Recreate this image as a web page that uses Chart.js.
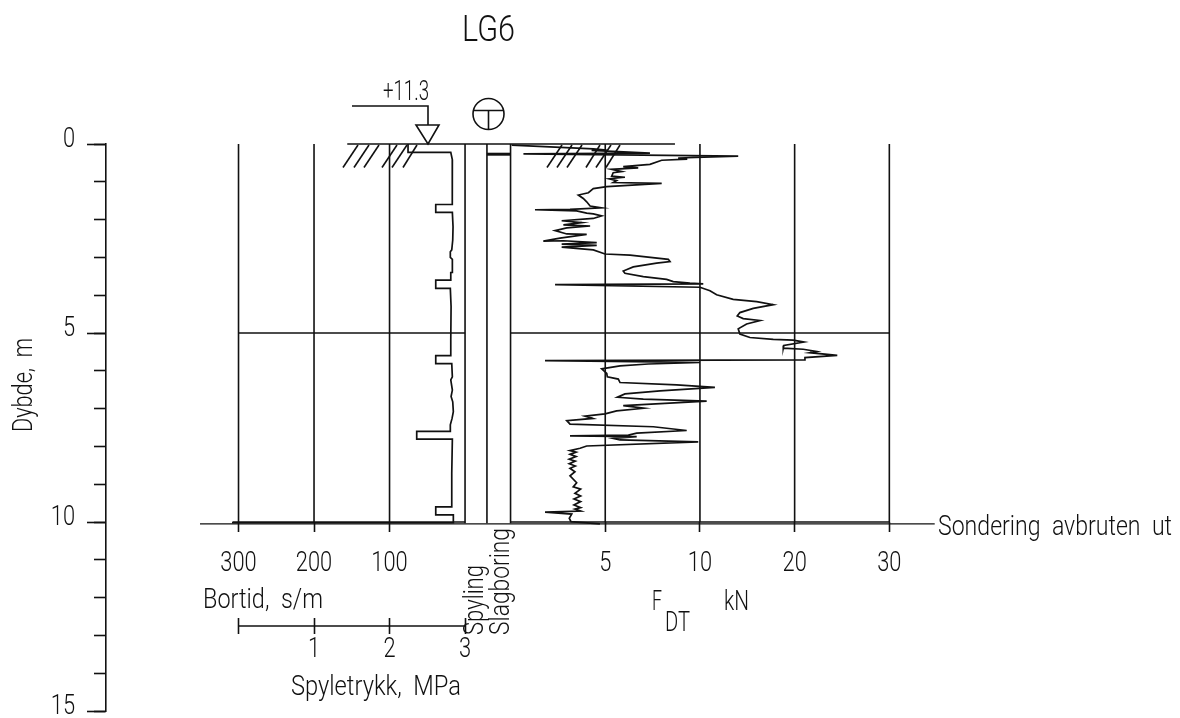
<!DOCTYPE html>
<html>
<head>
<meta charset="utf-8">
<title>LG6</title>
<style>
  html, body { margin: 0; padding: 0; background: #fff; }
  canvas { display: block; }
</style>
<script src="https://cdn.jsdelivr.net/npm/chart.js@4"></script>
</head>
<body>
<canvas id="myChart" width="1180" height="718"></canvas>
<script>
const depthTicks = [0, 5, 10, 15];
const bortidTicks = [300, 200, 100];
const fdtTicks = [5, 10, 20, 30];
const spyleTicks = [0, 1, 2, 3];

// Bortid, s/m against depth
const bortidValues = [75.5, 75.5, 18.9, 16.8, 16.3, 17.2, 17.2, 38.8, 38.8, 16.8, 15.9, 16.3, 17.6, 19.5, 19.5, 16.8,
  16.8, 18.9, 18.9, 38.8, 38.8, 19.5, 18.5, 18.9, 18.9, 38.8, 38.8, 17.6, 16.8, 18.9, 16.8, 18.5, 16.3, 15.5, 17.2,
  19.5, 19.5, 64, 64, 16.8, 17.6, 17.6, 38.8, 38.8, 15.5, 15.5, 308.6];
const bortidDepths = [0, 0.22, 0.22, 0.42, 0.77, 1.03, 1.6, 1.6, 1.81, 1.81, 2.19, 2.54, 2.8, 2.85, 3, 3.05,
  3.4, 3.4, 3.6, 3.6, 3.82, 3.82, 4.3, 5.19, 5.6, 5.6, 5.81, 5.81, 6.16, 6.24, 6.51, 6.68, 6.82, 7.08, 7.26,
  7.43, 7.6, 7.6, 7.81, 7.81, 8.71, 9.6, 9.6, 9.81, 9.81, 10.02, 10.02];

// F_DT, kN against depth
const fdtValues = [0.06, 4.37, 5.08, 4.28, 7.36, 0.68, 14.04, 8.85, 9.33, 7.98, 7.36, 5.95, 6.74, 5.34, 5.87, 5.42,
  5.34, 6.04, 5.21, 5.6, 5.42, 7.98, 5.08, 4.37, 4.11, 3.58, 3.84, 4.02, 4.2, 4.81, 3.14, 1.29, 3.49, 4.02, 4.37,
  4.81, 4.37, 2.7, 3.76, 2.79, 4.2, 2.97, 2.35, 2.97, 4.02, 2.61, 1.73, 2.79, 4.55, 2.7, 4.55, 2.7, 4.37, 4.99,
  6.31, 8.33, 8.42, 7.71, 6.48, 5.95, 6.04, 7.01, 8.24, 8.59, 9.47, 10.35, 2.35, 10, 11.06, 11.76, 13.51, 15.99,
  17.74, 15.63, 14.22, 13.94, 14.57, 16.34, 14.93, 14.04, 14.22, 15.28, 17.74, 19.85, 20.98, 18.86, 18.8, 20.91,
  22.32, 21.61, 24.5, 21.09, 21.09, 1.82, 10, 7.27, 5.78, 4.81, 5.08, 5.11, 5.69, 5.78, 8.77, 11.58, 7.89, 6.04,
  5.64, 7.01, 10.71, 5.95, 7.04, 5.6, 4.99, 3.93, 4.34, 2.97, 3.14, 7.54, 9.3, 6.66, 6.22, 3.14, 6.66, 5.42, 5.78,
  9.91, 4.02, 3.67, 3.14, 3.46, 3.14, 3.46, 3.1, 3.42, 3.1, 3.42, 3.14, 3.4, 3.14, 3.49, 3.31, 3.7, 3.4, 3.7, 3.35,
  3.7, 3.35, 3.7, 3.4, 3.7, 1.82, 3.23, 3.1, 3.19, 4.72];
const fdtDepths = [0.03, 0.13, 0.16, 0.17, 0.24, 0.26, 0.32, 0.37, 0.4, 0.43, 0.54, 0.6, 0.63, 0.67, 0.73, 0.76,
  0.85, 0.88, 0.92, 0.97, 1.02, 1.04, 1.13, 1.18, 1.29, 1.35, 1.44, 1.53, 1.64, 1.69, 1.73, 1.74, 1.77, 1.83, 1.85,
  1.9, 1.97, 2.03, 2.08, 2.14, 2.17, 2.22, 2.29, 2.38, 2.39, 2.49, 2.57, 2.56, 2.61, 2.65, 2.68, 2.73, 2.8, 2.91,
  2.94, 3.05, 3.11, 3.15, 3.25, 3.36, 3.42, 3.51, 3.58, 3.64, 3.68, 3.7, 3.72, 3.79, 3.88, 3.99, 4.11, 4.17,
  4.25, 4.35, 4.46, 4.55, 4.62, 4.67, 4.76, 4.89, 5.03, 5.12, 5.17, 5.19, 5.24, 5.33, 5.4, 5.43,
  5.49, 5.52, 5.59, 5.65, 5.71, 5.73, 5.78, 5.82, 5.87, 5.95, 6.07, 6.16, 6.22, 6.31, 6.37, 6.44, 6.53, 6.61,
  6.7, 6.75, 6.8, 6.92, 6.99, 7.06, 7.14, 7.2, 7.26, 7.32, 7.41, 7.48, 7.58, 7.65, 7.7, 7.72, 7.74, 7.79, 7.83,
  7.88, 7.99, 8.05, 8.11, 8.15, 8.21, 8.27, 8.34, 8.39, 8.46, 8.52, 8.58, 8.67, 8.78, 8.96, 9.07, 9.13, 9.24, 9.31, 9.39,
  9.46, 9.55, 9.62, 9.66, 9.71, 9.74, 9.79, 9.9, 9.99, 10.05];

const FONT = "Roboto, sans-serif";
const INK = "#111";
const DIGIT_SQUEEZE = 0.78;

// F_DT axis: 0-10 takes two grid columns, 10-30 takes two as well
function fdtUnits(v) {
    return v <= 10 ? v / 5 : 2 + (v - 10) / 10;
}

class FdtScale extends Chart.LinearScale {
    getPixelForValue(value) {
        const start = fdtUnits(this.min);
        return this.getPixelForDecimal((fdtUnits(value) - start) / (fdtUnits(this.max) - start));
    }
}
FdtScale.id = "fdt";
FdtScale.defaults = Chart.LinearScale.defaults;
Chart.register(FdtScale);

function pairs(xs, ys) {
    return xs.map((x, i) => ({ x: x, y: ys[i] }));
}

function lineSet(axis, xs, ys, width) {
    return {
        data: pairs(xs, ys),
        xAxisID: axis,
        yAxisID: "y",
        showLine: true,
        borderColor: INK,
        borderWidth: width || 1.6,
        pointRadius: 0,
        tension: 0,
        clip: false,
    };
}

const datasets = [
    lineSet("xB", bortidValues, bortidDepths, 1.7),
    lineSet("xF", fdtValues, fdtDepths, 1.7),
    lineSet("xB", [156, -278], [0, 0]),
    lineSet("xB", [300, 0], [5, 5]),
    lineSet("xF", [0, 30], [5, 5]),
    lineSet("xB", [308, 0], [10, 10]),
    lineSet("xF", [0, 30], [10, 10]),
    lineSet("xB", [351, -622], [10.05, 10.05], 1.3),
    lineSet("xB", [-29, -60], [0.27, 0.27], 3),
    lineSet("xB", [0, 0], [0, 10.03]),
    lineSet("xB", [-29, -29], [0, 10.03]),
    lineSet("xF", [0, 0], [0, 10.03]),
    lineSet("xP", [0, 3], [12.75, 12.75]),
];
bortidTicks.forEach((t) => datasets.push(lineSet("xB", [t, t], [0, 10])));
fdtTicks.forEach((t) => datasets.push(lineSet("xF", [t, t], [0, 10])));

function xAxis(type, min, max, ticks, pos, tickLen, opts) {
    return Object.assign({
        type: type,
        min: min,
        max: max,
        position: pos,
        border: { display: false },
        grid: { drawOnChartArea: false, tickLength: tickLen, tickColor: INK, tickWidth: 1.6 },
        ticks: { display: false, autoSkip: false, maxRotation: 0 },
        afterBuildTicks: (scale) => {
            scale.ticks = ticks.map((value) => ({ value: value }));
        },
    }, opts);
}

const annotations = {
    id: "annotations",
    afterDatasetsDraw(chart) {
        const c = chart.ctx;
        const sc = chart.scales;
        c.save();
        c.strokeStyle = INK;
        c.lineWidth = 1.6;

        // ground hatching
        [[343, 358], [354, 369], [364, 379], [382, 397], [392, 407], [403, 417],
         [547, 562], [557, 572], [567, 582], [586, 600], [596, 611], [606, 620]].forEach((h) => {
            c.beginPath();
            c.moveTo(h[0], 167.5);
            c.lineTo(h[1], 145);
            c.stroke();
        });

        // terrain level marker
        c.beginPath();
        c.moveTo(352, 106);
        c.lineTo(428, 106);
        c.lineTo(428, 125);
        c.moveTo(416, 125);
        c.lineTo(439, 125);
        c.lineTo(428, 144);
        c.closePath();
        c.stroke();

        // rig symbol
        c.beginPath();
        c.arc(488.5, 114, 15.5, 0, Math.PI * 2);
        c.moveTo(474, 110.5);
        c.lineTo(503, 110.5);
        c.moveTo(488.5, 110.5);
        c.lineTo(488.5, 129.5);
        c.stroke();

        // all text is squeezed sideways to get the narrow drafting look
        c.fillStyle = INK;
        c.textBaseline = "alphabetic";
        c.wordSpacing = "7px";
        const text = (str, x, y, opt) => {
            const size = (opt && opt.size) || 28;
            c.font = "300 " + size + "px " + FONT;
            c.textAlign = "left";
            const full = c.measureText(str).width;
            const w = opt && opt.width ? opt.width : full * DIGIT_SQUEEZE;
            c.save();
            c.translate(x, y);
            if (opt && opt.vertical) {
                c.rotate(-Math.PI / 2);
            }
            const anchor = opt && opt.align === "center" ? -w / 2 : opt && opt.align === "right" ? -w : 0;
            c.translate(anchor, 0);
            c.scale(w / full, 1);
            c.fillText(str, 0, 0);
            c.restore();
        };

        // tick labels sit where the library's scales put the ticks
        bortidTicks.forEach((t) => text(String(t), sc.xB.getPixelForValue(t), 571, { align: "center" }));
        fdtTicks.forEach((t) => text(String(t), sc.xF.getPixelForValue(t), 571, { align: "center" }));
        spyleTicks.slice(1).forEach((t) => text(String(t), sc.xP.getPixelForValue(t), 657, { align: "center" }));
        depthTicks.forEach((t) => text(String(t), 75, sc.y.getPixelForValue(t) + 2.5, { align: "right" }));

        text("LG6", 462, 41, { size: 36, width: 53 });
        text("+11.3", 383, 100, { width: 46 });
        text("Bortid, s/m", 203, 608, { width: 120 });
        text("Spyletrykk, MPa", 291, 695, { width: 170 });
        text("F", 652, 610, { width: 10 });
        text("DT", 665, 631, { width: 25 });
        text("kN", 724, 610, { width: 25 });
        text("Sondering avbruten ut", 938, 535, { width: 234 });
        text("Dybde, m", 32, 432, { width: 94, vertical: true });
        text("Spyling", 483, 635, { width: 70, vertical: true });
        text("Slagboring", 509, 635, { width: 107, vertical: true });
        c.restore();
    },
};

new Chart(document.getElementById("myChart").getContext("2d"), {
    type: "scatter",
    data: { datasets: datasets },
    plugins: [annotations],
    options: {
        responsive: false,
        animation: false,
        events: [],
        layout: { padding: { left: 0, top: 144, right: 240, bottom: 7 } },
        plugins: { legend: { display: false }, tooltip: { enabled: false }, title: { display: false } },
        scales: {
            y: {
                position: "left",
                min: 0,
                max: 15,
                reverse: true,
                border: { display: true, color: INK, width: 1.6 },
                grid: { drawOnChartArea: false, tickLength: 19, tickColor: INK, tickWidth: 1.6 },
                ticks: { display: false },
                afterBuildTicks: (scale) => {
                    scale.ticks = depthTicks.map((value) => ({ value: value }));
                },
                afterFit: (scale) => {
                    scale.width = 106;
                    scale.paddingTop = 0;
                    scale.paddingBottom = 0;
                },
            },
            yMinor: {
                position: { xB: 475.5 },
                min: 0,
                max: 15,
                reverse: true,
                border: { display: false },
                grid: { drawOnChartArea: false, tickLength: 12, tickColor: INK, tickWidth: 1.6 },
                ticks: { stepSize: 1, display: false },
            },
            xB: xAxis("linear", -629, 475.5, bortidTicks, { y: 10 }, 10, { reverse: true }),
            xF: xAxis("fdt", -21.36, 35.35, fdtTicks, { y: 10 }, 10),
            xP: xAxis("linear", -1.755, 9.29, spyleTicks, { y: 12.54 }, 16),
        },
    },
});
</script>
</body>
</html>
